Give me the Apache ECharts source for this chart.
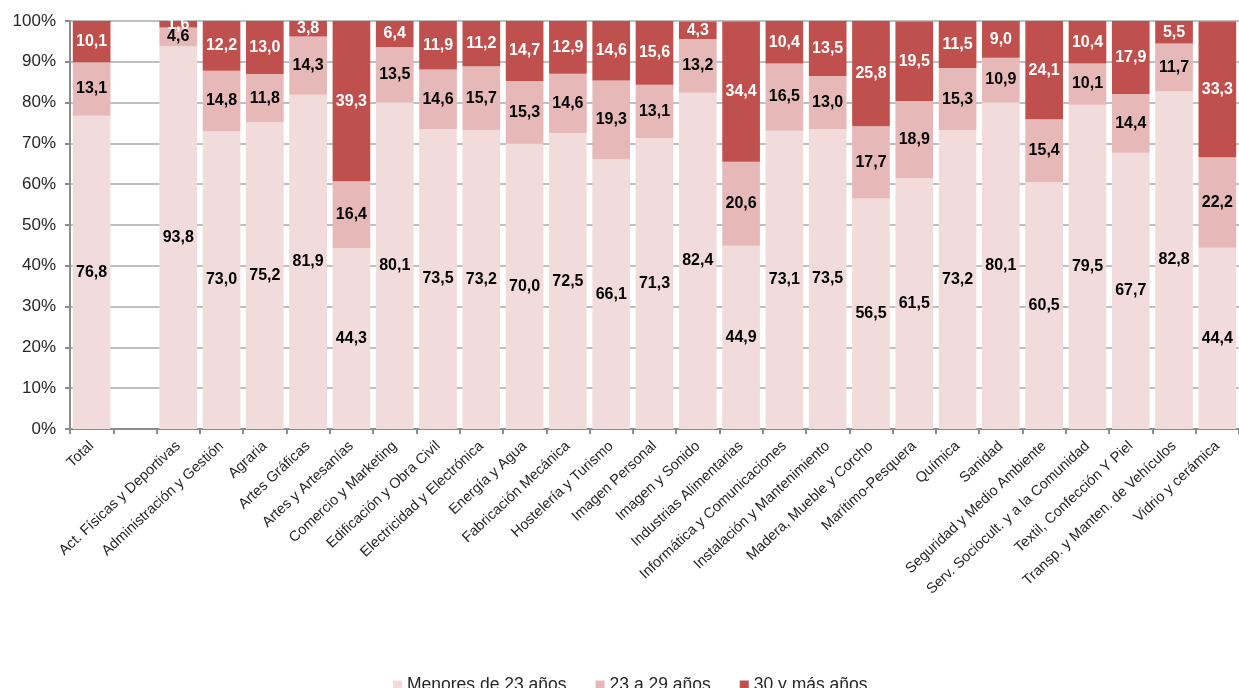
<!DOCTYPE html>
<html>
<head>
<meta charset="utf-8">
<script src="https://cdn.jsdelivr.net/npm/echarts@6/dist/echarts.min.js"></script>
<style>
  html, body { margin: 0; padding: 0; background: #fff; }
  #chart { width: 1239px; height: 688px; }
</style>
</head>
<body>
<div id="chart"></div>
<script>
  // categorías (hueco vacío tras Total)
  const categories = ['Total', '', 'Act. Físicas y Deportivas', 'Administración y Gestión', 'Agraria',
    'Artes Gráficas', 'Artes y Artesanías', 'Comercio y Marketing', 'Edificación y Obra Civil',
    'Electricidad y Electrónica', 'Energía y Agua', 'Fabricación Mecánica', 'Hostelería y Turismo',
    'Imagen Personal', 'Imagen y Sonido', 'Industrias Alimentarias', 'Informática y Comunicaciones',
    'Instalación y Mantenimiento', 'Madera, Mueble y Corcho', 'Marítimo-Pesquera', 'Química', 'Sanidad',
    'Seguridad y Medio Ambiente', 'Serv. Sociocult. y a la Comunidad', 'Textil, Confección Y Piel',
    'Transp. y Manten. de Vehículos', 'Vidrio y cerámica']

  const menores23 = [76.8, null, 93.8, 73.0, 75.2, 81.9, 44.3, 80.1, 73.5, 73.2, 70.0, 72.5, 66.1,
    71.3, 82.4, 44.9, 73.1, 73.5, 56.5, 61.5, 73.2, 80.1, 60.5, 79.5, 67.7, 82.8, 44.4]
  const de23a29 = [13.1, null, 4.6, 14.8, 11.8, 14.3, 16.4, 13.5, 14.6, 15.7, 15.3, 14.6, 19.3,
    13.1, 13.2, 20.6, 16.5, 13.0, 17.7, 18.9, 15.3, 10.9, 15.4, 10.1, 14.4, 11.7, 22.2]
  const mas30 = [10.1, null, 1.6, 12.2, 13.0, 3.8, 39.3, 6.4, 11.9, 11.2, 14.7, 12.9, 14.6,
    15.6, 4.3, 34.4, 10.4, 13.5, 25.8, 19.5, 11.5, 9.0, 24.1, 10.4, 17.9, 5.5, 33.3]

  const yTicks = [0, 10, 20, 30, 40, 50, 60, 70, 80, 90, 100]

  const fmt = p => p.value == null ? '' : p.value.toFixed(1).replace('.', ',')

  function serie(name, data, color, labelColor) {
    return {
      name: name,
      type: 'bar',
      stack: 'total',
      data: data,
      barCategoryGap: '13%',
      itemStyle: { color: color },
      label: {
        show: true,
        position: 'inside',
        formatter: fmt,
        color: labelColor,
        fontFamily: 'Liberation Sans',
        fontWeight: 'bold',
        fontSize: 16
      }
    }
  }

  const myChart = echarts.init(document.getElementById('chart'))
  const option = {
    animation: false,
    textStyle: { fontFamily: 'Liberation Sans' },
    grid: {
      left: 70,
      top: 21,
      width: 1176,
      height: 408
    },
    legend: {
      top: 671,
      left: 388,
      icon: 'rect',
      itemWidth: 9,
      itemHeight: 9,
      itemGap: 29,
      textStyle: { fontSize: 17.5, color: '#262626', fontFamily: 'Liberation Sans' },
      data: ['Menores de 23 años', '23 a 29 años', '30 y más años']
    },
    xAxis: {
      type: 'category',
      data: categories,
      axisLine: { lineStyle: { color: '#8c8c8c', width: 2 } },
      axisTick: { show: true, length: 5, lineStyle: { color: '#8c8c8c', width: 2 } },
      axisLabel: {
        interval: 0,
        rotate: 43,
        fontSize: 14.5,
        color: '#262626',
        margin: 15
      }
    },
    yAxis: {
      type: 'value',
      min: 0,
      max: 100,
      interval: 10,
      axisLine: { show: true, lineStyle: { color: '#8c8c8c', width: 2 } },
      axisTick: { show: true, length: 5, lineStyle: { color: '#8c8c8c', width: 2 } },
      splitLine: { lineStyle: { color: '#bfbfbf', width: 2 } },
      axisLabel: {
        fontSize: 17,
        color: '#262626',
        margin: 14,
        formatter: v => yTicks.includes(v) ? v + '%' : ''
      }
    },
    series: [
      serie('Menores de 23 años', menores23, '#f2dcdb', '#000'),
      serie('23 a 29 años', de23a29, '#e6b9b8', '#000'),
      serie('30 y más años', mas30, '#c0504d', '#fff')
    ]
  }
  myChart.setOption(option)
</script>
</body>
</html>
